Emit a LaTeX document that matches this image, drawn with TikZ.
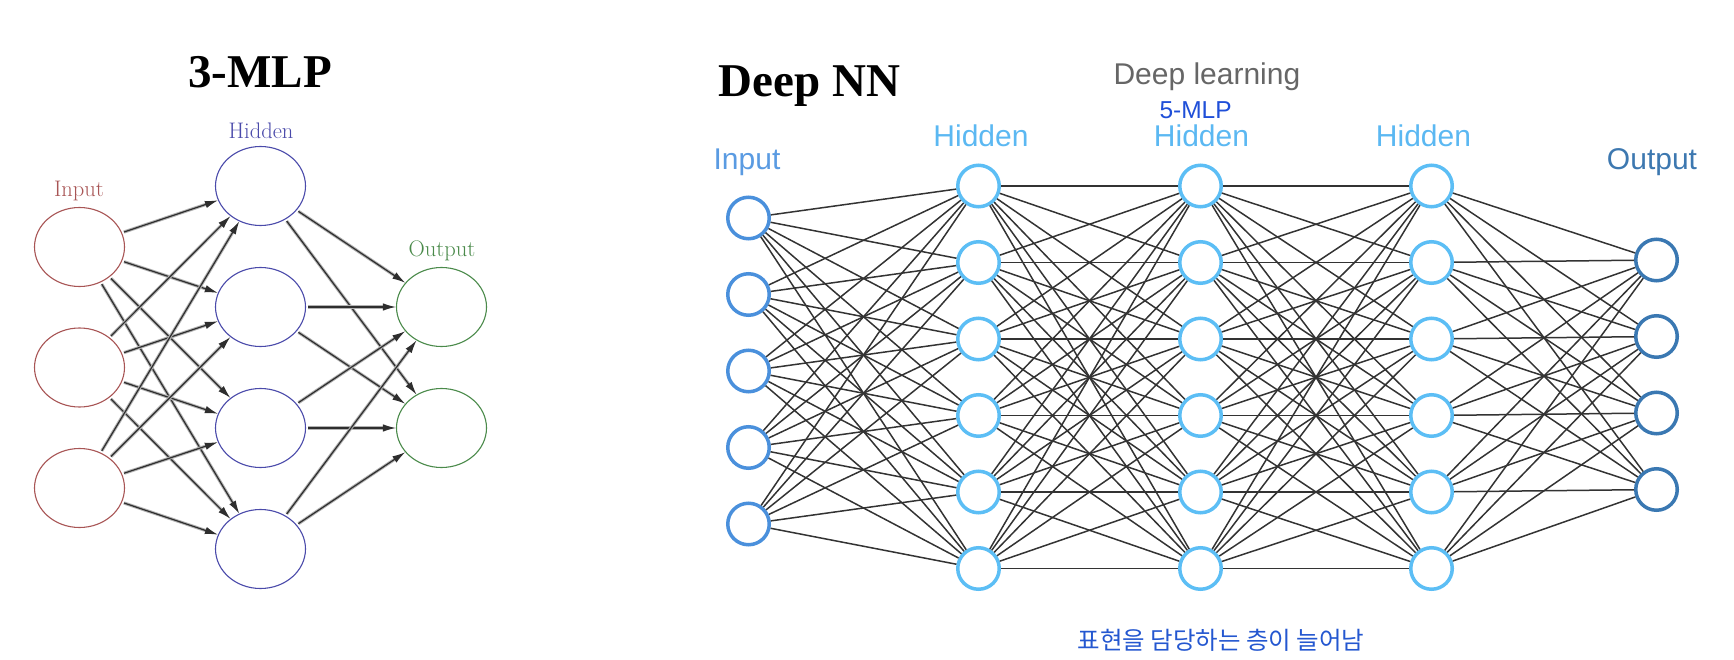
\documentclass[tikz,border=0pt]{standalone}
\usepackage{fontspec}
\usetikzlibrary{shapes.geometric,arrows.meta}
\newfontfamily\timesfont{Liberation Serif}
\newfontfamily\arialfont{Liberation Sans}
\newfontfamily\krfont{Noto Sans CJK KR}
\definecolor{lin}{HTML}{A85555}
\definecolor{lhid}{HTML}{4A4AAA}
\definecolor{lout}{HTML}{4A8A4A}
\definecolor{rin}{HTML}{4A90DC}
\definecolor{rhid}{HTML}{5CBEF5}
\definecolor{rout}{HTML}{3A78B2}
\definecolor{rinlab}{HTML}{5A9BE2}
\definecolor{rhidlab}{HTML}{5BB8F2}
\definecolor{routlab}{HTML}{3D78B0}
\definecolor{dlgray}{HTML}{666666}
\definecolor{mlpblue}{HTML}{1F4FD8}
\definecolor{krblue}{HTML}{2457D0}
\begin{document}
\begin{tikzpicture}[x=1pt,y=-1pt,
  lnode/.style={ellipse,draw,minimum width=90pt,minimum height=79pt,inner sep=0pt,line width=1.1pt,fill=white},
  rnode/.style={circle,draw,minimum size=41.5pt,inner sep=0pt,line width=3.5pt,fill=white},
  halo/.style={draw=black!30,line width=3.2pt,shorten <=2pt,shorten >=12pt},
  core/.style={draw=black!82,line width=1.2pt,shorten <=2pt,-{Latex[length=13pt,width=7.5pt]}},
  edge/.style={draw=black!80,line width=1.5pt},
  ttl/.style={font=\timesfont\bfseries\fontsize{47}{50}\selectfont,anchor=base},
  llab/.style={font=\fontsize{22.5}{24}\selectfont,anchor=base},
  rlab/.style={font=\arialfont\fontsize{30}{34}\selectfont,anchor=base}]
\useasboundingbox (0,0) rectangle (1734,660);

% ---------- left: 3-MLP ----------
\node[ttl] (t1) at (260,88) {3-MLP};
\foreach \k in {1,2,3} \node[lnode,draw=lin] (li\k) at (79.5,{247+120.5*(\k-1)}) {};
\foreach \k in {1,...,4} \node[lnode,draw=lhid] (lh\k) at (260.5,{186+121*(\k-1)}) {};
\foreach \k in {1,2} \node[lnode,draw=lout] (lo\k) at (441.5,{307+121*(\k-1)}) {};
\node[llab,text=lin] (lli) at (79,197) {Input};
\node[llab,text=lhid] (llh) at (261,139) {Hidden};
\node[llab,text=lout] (llo) at (442,257) {Output};
\foreach \a in {1,2,3}{
  \foreach \b in {1,...,4}{
    \draw[halo] (li\a) -- (lh\b);
    \draw[core] (li\a) -- (lh\b);
  }}
\foreach \a in {1,...,4}{
  \foreach \b in {1,2}{
    \draw[halo] (lh\a) -- (lo\b);
    \draw[core] (lh\a) -- (lo\b);
  }}

% ---------- right: Deep NN ----------
\node[ttl,anchor=base west] (t2) at (715,97) {Deep NN};
\node[rlab,anchor=base west,text=dlgray] (dl) at (1110,85) {Deep learning};
\node[anchor=base west,font=\arialfont\fontsize{24.5}{28}\selectfont,text=mlpblue] (mlp) at (1156,119) {5-MLP};
\node[rlab,text=rinlab] (rli) at (747,170) {Input};
\node[rlab,text=rhidlab] (rla) at (981,147) {Hidden};
\node[rlab,text=rhidlab] (rlb) at (1201.5,147) {Hidden};
\node[rlab,text=rhidlab] (rlc) at (1423.5,147) {Hidden};
\node[rlab,text=routlab] (rlo) at (1652,170) {Output};
\node[font=\krfont\fontsize{24.5}{28}\selectfont,text=krblue] (kr) at (1221,640) {표현을 담당하는 층이 늘어남};

\foreach \k in {1,...,5} \node[rnode,draw=rin] (ri\k) at (748.5,{218+76.5*(\k-1)}) {};
\foreach \k in {1,...,6} \node[rnode,draw=rhid] (ra\k) at (978.5,{186+76.5*(\k-1)}) {};
\foreach \k in {1,...,6} \node[rnode,draw=rhid] (rb\k) at (1200.5,{186+76.5*(\k-1)}) {};
\foreach \k in {1,...,6} \node[rnode,draw=rhid] (rc\k) at (1431.5,{186+76.5*(\k-1)}) {};
\foreach \k in {1,...,4} \node[rnode,draw=rout] (ro\k) at (1656.5,{260+76.5*(\k-1)}) {};

\foreach \a in {1,...,5}{\foreach \b in {1,...,6}{\draw[edge] (ri\a) -- (ra\b);}}
\foreach \a in {1,...,6}{\foreach \b in {1,...,6}{\draw[edge] (ra\a) -- (rb\b);}}
\foreach \a in {1,...,6}{\foreach \b in {1,...,6}{\draw[edge] (rb\a) -- (rc\b);}}
\foreach \a in {1,...,6}{\foreach \b in {1,...,4}{\draw[edge] (rc\a) -- (ro\b);}}
\end{tikzpicture}
\end{document}
